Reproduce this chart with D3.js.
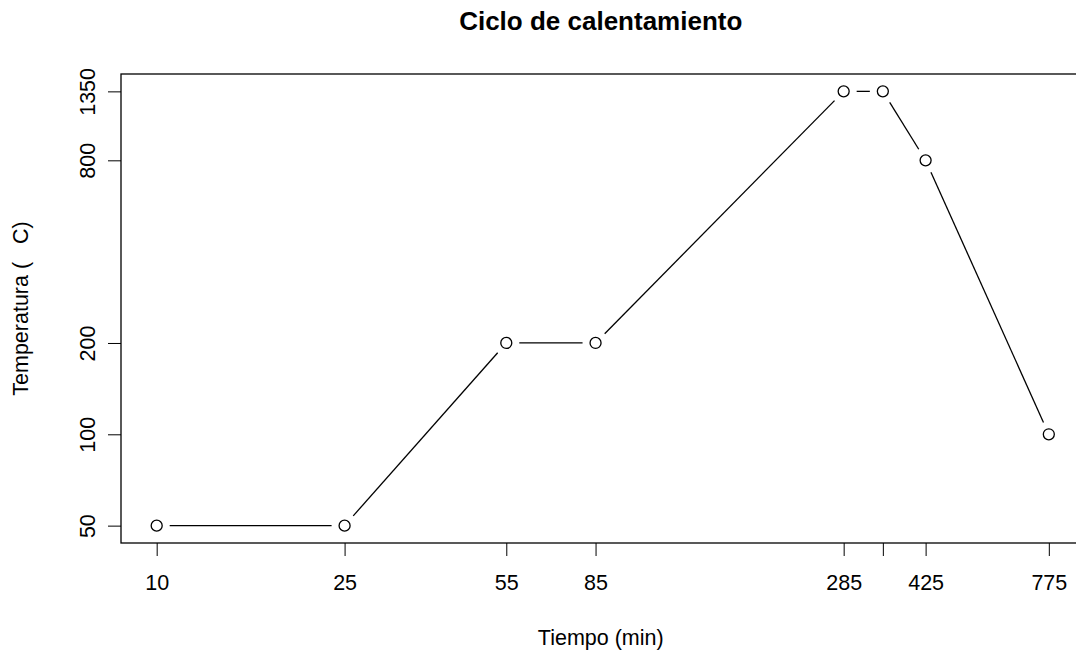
<!DOCTYPE html>
<html>
<head>
<meta charset="utf-8">
<script src="https://cdn.jsdelivr.net/npm/d3@7"></script>
<style>
  body { margin: 0; background: #fff; }
  text { font-family: "Liberation Sans", Arial, sans-serif; fill: #000; }
</style>
</head>
<body>
<div id="chart"></div>
<script>
const width = 1076;
const height = 657;

// Datos del ciclo
const tiempo = [10, 25, 55, 85, 285, 345, 425, 775];
const temperatura = [50, 50, 200, 200, 1350, 1350, 800, 100];
const xTicks = [10, 25, 55, 85, 285, 345, 425, 775];
const xTickLabels = ["10", "25", "55", "85", "285", "", "425", "775"];
const yTicks = [50, 100, 200, 800, 1350];

// Región del gráfico
const plotLeft = 121, plotRight = 1084.5, plotTop = 74, plotBottom = 543;

// Escalas log con la expansión del 4% como en R
function expand(lo, hi) {
    const a = Math.log10(lo), b = Math.log10(hi), d = (b - a) * 0.04;
    return [Math.pow(10, a - d), Math.pow(10, b + d)];
}
const x = d3.scaleLog().domain(expand(d3.min(tiempo), d3.max(tiempo))).range([plotLeft, plotRight]);
const y = d3.scaleLog().domain(expand(d3.min(temperatura), d3.max(temperatura))).range([plotBottom, plotTop]);

const svg = d3.select("#chart").append("svg")
    .attr("width", width)
    .attr("height", height);

// Título
svg.append("text")
    .attr("x", (plotLeft + plotRight) / 2 - 2)
    .attr("y", 30)
    .attr("text-anchor", "middle")
    .style("font-size", "26px")
    .style("font-weight", "bold")
    .text("Ciclo de calentamiento");

// Eje x
const xAxis = svg.append("g")
    .attr("transform", `translate(0,${plotBottom})`)
    .call(d3.axisBottom(x).tickValues(xTicks).tickSize(13).tickPadding(19)
        .tickFormat((d, i) => xTickLabels[i]));
xAxis.select(".domain").remove();
xAxis.selectAll("line").attr("stroke", "#000");
xAxis.selectAll("text").style("font-size", "21.5px").attr("dy", "0.71em");

// Eje y
const yAxis = svg.append("g")
    .attr("transform", `translate(${plotLeft},0)`)
    .call(d3.axisLeft(y).tickValues(yTicks).tickSize(13).tickFormat(d3.format("d")));
yAxis.select(".domain").remove();
yAxis.selectAll("line").attr("stroke", "#000");
yAxis.selectAll("text")
    .attr("x", null).attr("dy", null)
    .attr("text-anchor", "middle")
    .attr("transform", "translate(-26,0) rotate(-90)")
    .style("font-size", "21.5px");

// Caja
svg.append("rect")
    .attr("x", plotLeft).attr("y", plotTop)
    .attr("width", plotRight - plotLeft).attr("height", plotBottom - plotTop)
    .attr("fill", "none").attr("stroke", "#000").attr("stroke-width", 1.3);

// Títulos de los ejes
svg.append("text")
    .attr("x", (plotLeft + plotRight) / 2 - 2)
    .attr("y", 645)
    .attr("text-anchor", "middle")
    .style("font-size", "21.5px")
    .text("Tiempo (min)");

svg.append("text")
    .attr("transform", `translate(28,${(plotTop + plotBottom) / 2}) rotate(-90)`)
    .attr("text-anchor", "middle")
    .attr("xml:space", "preserve")
    .style("white-space", "pre")
    .style("font-size", "21.5px")
    .text("Temperatura (   C)");

// Segmentos tipo "b" con huecos alrededor de los puntos
const pts = tiempo.map((t, i) => [x(t), y(temperatura[i])]);
const gap = 13;
const segs = d3.pairs(pts).map(([p, q]) => {
    const dx = q[0] - p[0], dy = q[1] - p[1];
    const len = Math.hypot(dx, dy);
    const ux = dx / len, uy = dy / len;
    return [p[0] + ux * gap, p[1] + uy * gap, q[0] - ux * gap, q[1] - uy * gap];
});

svg.selectAll(".seg")
    .data(segs)
    .enter().append("line")
    .attr("class", "seg")
    .attr("x1", d => d[0]).attr("y1", d => d[1])
    .attr("x2", d => d[2]).attr("y2", d => d[3])
    .attr("stroke", "#000").attr("stroke-width", 1.3);

svg.selectAll(".pt")
    .data(pts)
    .enter().append("circle")
    .attr("class", "pt")
    .attr("cx", d => d[0]).attr("cy", d => d[1])
    .attr("r", 5.5)
    .attr("fill", "none").attr("stroke", "#000").attr("stroke-width", 1.3);
</script>
</body>
</html>
